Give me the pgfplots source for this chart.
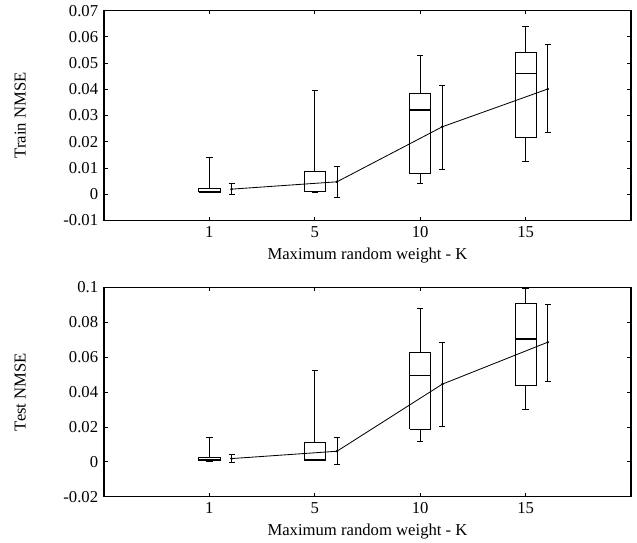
\documentclass[border=0pt]{standalone}
\usepackage{fontspec}
\setmainfont{Liberation Serif}
\usepackage{pgfplots}
\pgfplotsset{compat=1.18}

\pgfplotsset{
  nmse/.style={
    scale only axis,
    width=316.2pt, height=125.8pt,
    xmin=0, xmax=5,
    xtick={1,2,3,4}, xticklabels={1,5,10,15},
    tick align=inside,
    major tick length=2.2pt,
    axis line style={line width=0.7pt},
    every tick/.style={black, line width=0.5pt},
    scaled y ticks=false,
    unbounded coords=jump,
    /pgf/number format/assume math mode=true,
    yticklabel style={/pgf/number format/fixed, /pgf/number format/precision=2},
    xlabel={Maximum random weight - K},
    xlabel style={at={(axis description cs:0.5,-0.167)}, anchor=center},
    ylabel style={at={(axis description cs:-0.159,0.5)}, anchor=center},
  },
  bx/.style={black, line width=0.5pt, solid, mark=none},
  meanline/.style={black, line width=0.5pt, mark=*, mark size=0.5pt,
    error bars/.cd, y dir=both, y explicit,
    error bar style={line width=0.5pt},
    error mark options={rotate=90, black, mark size=1.8pt, line width=0.5pt}},
}

% box at position #1: lower whisker #2, lower quartile #3, median #4, upper quartile #5, upper whisker #6
\newcommand\boxk[6]{%
  \pgfmathsetmacro\bxL{#1-0.1}\pgfmathsetmacro\bxR{#1+0.1}%
  \pgfmathsetmacro\capL{#1-0.03}\pgfmathsetmacro\capR{#1+0.03}%
  \addplot[bx] coordinates {
    (\bxL,#3) (\bxR,#3) (\bxR,#5) (\bxL,#5) (\bxL,#3) (#1,nan)
    (#1,#5) (#1,#6) (#1,nan) (\capL,#6) (\capR,#6) (#1,nan)
    (#1,#3) (#1,#2) (#1,nan) (\capL,#2) (\capR,#2)
  };
  \addplot[bx, line width=0.9pt] coordinates {(\bxL,#4) (\bxR,#4)};
}

\begin{document}
\begin{tikzpicture}
% ---- train ----
\begin{axis}[nmse, name=top, at={(0,0)}, anchor=north west,
  ymin=-0.01, ymax=0.07, ytick={-0.01,0,0.01,0.02,0.03,0.04,0.05,0.06,0.07},
  ylabel={Train NMSE}]
\boxk{1}{0.0005}{0.0008}{0.0009}{0.0023}{0.0139}
\boxk{2}{0.0005}{0.0009}{0.0010}{0.0088}{0.0396}
\boxk{3}{0.0042}{0.0078}{0.0321}{0.0385}{0.0529}
\boxk{4}{0.0123}{0.0217}{0.0461}{0.0541}{0.0641}
\addplot[meanline] coordinates {
  (1.21,0.0019) += (0,0.0022) -= (0,0.0019)
  (2.21,0.0047) += (0,0.0060) -= (0,0.0061)
  (3.21,0.0257) += (0,0.0156) -= (0,0.0161)
  (4.21,0.0401) += (0,0.0170) -= (0,0.0167)
};
\end{axis}
% ---- test ----
\begin{axis}[nmse, name=bot, at={(0,-165.9pt)}, anchor=north west,
  ymin=-0.02, ymax=0.1, ytick={-0.02,0,0.02,0.04,0.06,0.08,0.1},
  ylabel={Test NMSE}]
\boxk{1}{0.0004}{0.0006}{0.0011}{0.0023}{0.0139}
\boxk{2}{0.0006}{0.0011}{0.0015}{0.0113}{0.0521}
\boxk{3}{0.0120}{0.0187}{0.0494}{0.0628}{0.0876}
\boxk{4}{0.0303}{0.0439}{0.0704}{0.0908}{0.0994}
\addplot[meanline] coordinates {
  (1.21,0.0019) += (0,0.0023) -= (0,0.0022)
  (2.21,0.0061) += (0,0.0080) -= (0,0.0078)
  (3.21,0.0445) += (0,0.0238) -= (0,0.0241)
  (4.21,0.0685) += (0,0.0219) -= (0,0.0223)
};
\end{axis}
\pgfresetboundingbox
\path[use as bounding box] (-62.4pt,6.4pt) rectangle (319.8pt,-318.8pt);
\end{tikzpicture}
\end{document}
